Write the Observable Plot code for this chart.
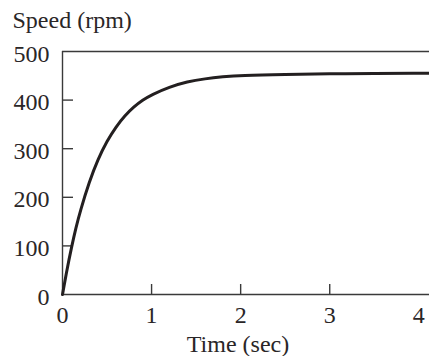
<!DOCTYPE html>
<html>
<head>
<meta charset="utf-8">
<script src="https://cdn.jsdelivr.net/npm/d3@7"></script>
<script src="https://cdn.jsdelivr.net/npm/@observablehq/plot@0.6"></script>
<style>
  html, body { margin: 0; padding: 0; background: #fff; }
</style>
</head>
<body>
<div id="chart"></div>
<script>
// Time (sec) and speed (rpm)
const times  = [0, 0.05, 0.1, 0.15, 0.2, 0.3, 0.4, 0.5, 0.6, 0.7, 0.8, 0.9, 1.0, 1.2, 1.4, 1.6, 1.8, 2.0, 2.5, 3.0, 3.5, 4.0, 4.12];
const speeds = [0, 51, 96, 137, 172, 232, 279, 316, 345, 368, 386, 400, 411, 427, 438, 444, 448, 451, 453, 454, 455, 455, 455];

const xTickLabels = [0, 1, 2, 3, 4];
const xTickMarks = [1, 2, 3];
const yTickLabels = [0, 100, 200, 300, 400, 500];
const yTickMarks = [100, 200, 300, 400];
const yTitle = "Speed (rpm)";
const xTitle = "Time (sec)";

const data = times.map((t, i) => ({t, s: speeds[i]}));

const W = 429, H = 356, ML = 62, MR = 0, MT = 51, MB = 62;
const FS = 24;
const axisColor = "#3a3a3a";
const textColor = "#2a2627";

const chart = Plot.plot({
  width: W,
  height: H,
  marginLeft: ML,
  marginRight: MR,
  marginTop: MT,
  marginBottom: MB,
  style: {fontFamily: "'Liberation Serif', serif", fontSize: FS + "px", color: textColor, background: "#fff"},
  x: {domain: [0, 4.12], axis: null},
  y: {domain: [0, 500], axis: null},
  marks: [
    Plot.ruleY([500], {stroke: axisColor, strokeWidth: 1.4}),
    Plot.ruleY([0], {stroke: axisColor, strokeWidth: 1.4}),
    Plot.ruleX([0], {stroke: axisColor, strokeWidth: 1.4}),
    Plot.tickY(yTickMarks, {y: d => d, stroke: axisColor, strokeWidth: 1.4, insetRight: W - ML - MR - 11}),
    Plot.tickX(xTickMarks, {x: d => d, stroke: axisColor, strokeWidth: 1.4, insetTop: H - MT - MB - 10}),
    Plot.line(data, {x: "t", y: "s", stroke: "#231f20", strokeWidth: 3, curve: "basis"}),
    Plot.text(yTickLabels, {y: d => d, frameAnchor: "left", text: d => String(d), textAnchor: "end", dx: -13, dy: 2.5, fontSize: FS, fill: textColor}),
    Plot.text(xTickLabels, {x: d => d, frameAnchor: "bottom", text: d => String(d), lineAnchor: "middle", dy: 21, fontSize: FS, fill: textColor}),
    Plot.text([yTitle], {frameAnchor: "top-left", text: d => d, textAnchor: "start", lineAnchor: "bottom", dx: -50, dy: -24, fontSize: FS, fill: textColor}),
    Plot.text([xTitle], {frameAnchor: "bottom", text: d => d, textAnchor: "middle", lineAnchor: "bottom", dx: -8, dy: 57, fontSize: FS, fill: textColor})
  ]
});
document.getElementById("chart").appendChild(chart);
</script>
</body>
</html>
